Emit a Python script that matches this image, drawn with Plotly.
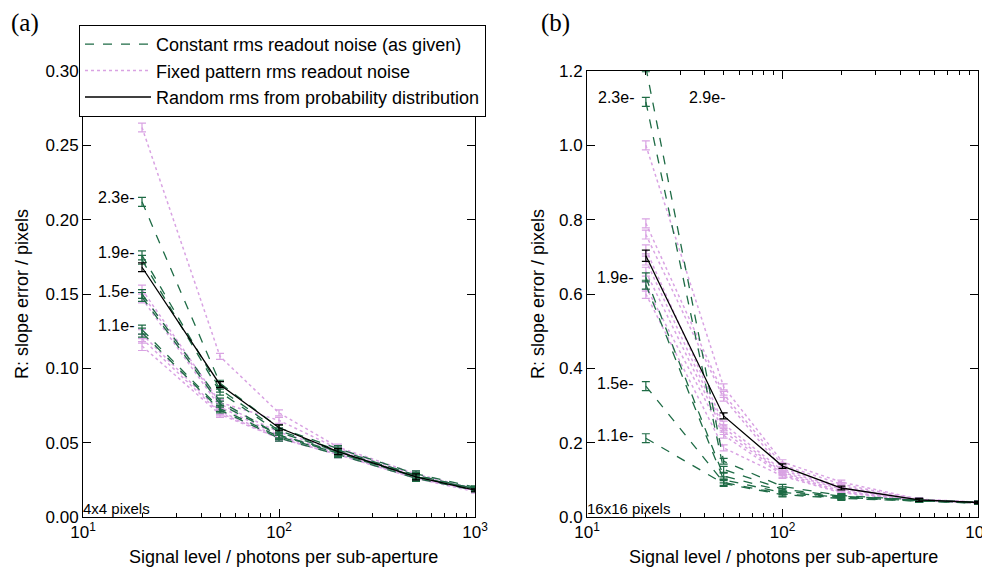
import plotly.graph_objects as go

signal = [20, 50, 100, 200, 500, 1000]

# ---- panel (a) 4x4 pixels ----
a_const = [
    [0.212, 0.090, 0.060, 0.046, 0.029, 0.020],
    [0.176, 0.086, 0.058, 0.045, 0.028, 0.019],
    [0.173, 0.084, 0.057, 0.044, 0.028, 0.019],
    [0.150, 0.078, 0.055, 0.044, 0.027, 0.019],
    [0.148, 0.076, 0.055, 0.043, 0.027, 0.019],
    [0.126, 0.073, 0.054, 0.043, 0.027, 0.018],
    [0.124, 0.072, 0.053, 0.042, 0.026, 0.018],
]
a_fixed = [
    [0.262, 0.108, 0.070, 0.047, 0.029, 0.019],
    [0.153, 0.077, 0.065, 0.046, 0.028, 0.019],
    [0.150, 0.076, 0.057, 0.045, 0.027, 0.018],
    [0.147, 0.074, 0.055, 0.044, 0.027, 0.018],
    [0.123, 0.071, 0.054, 0.043, 0.026, 0.018],
    [0.120, 0.070, 0.053, 0.042, 0.026, 0.018],
    [0.115, 0.069, 0.053, 0.042, 0.026, 0.017],
]
a_random = [0.168, 0.089, 0.060, 0.044, 0.027, 0.018]
a_err = [0.003, 0.002, 0.002, 0.002, 0.002, 0.001]

# ---- panel (b) 16x16 pixels ----
b_const = [
    [1.210, 0.150, 0.082, 0.058, 0.046, 0.040],
    [1.117, 0.128, 0.075, 0.056, 0.045, 0.039],
    [0.645, 0.110, 0.070, 0.054, 0.044, 0.039],
    [0.625, 0.100, 0.066, 0.053, 0.044, 0.038],
    [0.352, 0.093, 0.062, 0.052, 0.043, 0.038],
    [0.212, 0.090, 0.060, 0.050, 0.043, 0.037],
]
b_fixed = [
    [1.000, 0.350, 0.148, 0.094, 0.048, 0.040],
    [0.790, 0.330, 0.140, 0.088, 0.047, 0.040],
    [0.760, 0.320, 0.130, 0.082, 0.046, 0.039],
    [0.720, 0.250, 0.125, 0.078, 0.046, 0.039],
    [0.690, 0.240, 0.120, 0.075, 0.045, 0.039],
    [0.660, 0.230, 0.117, 0.070, 0.045, 0.038],
    [0.620, 0.220, 0.113, 0.068, 0.044, 0.038],
    [0.600, 0.186, 0.110, 0.065, 0.044, 0.038],
]
b_random = [0.703, 0.272, 0.137, 0.078, 0.046, 0.039]
b_err = [0.012, 0.008, 0.006, 0.005, 0.004, 0.003]
b_random_err = [0.015, 0.008, 0.006, 0.005, 0.004, 0.003]

a_labels = ["2.3e-", "1.9e-", "1.5e-", "1.1e-"]
a_label_y = [0.2148, 0.178, 0.152, 0.129]
b_labels = ["2.3e-", "2.9e-", "1.9e-", "1.5e-", "1.1e-"]
b_label_x = [1.251, 1.716, 1.246, 1.246, 1.246]
b_label_y = [1.128, 1.128, 0.644, 0.36, 0.22]

names = ["Constant rms readout noise (as given)",
         "Fixed pattern rms readout noise",
         "Random rms from probability distribution"]

GREEN = "#1e6b45"
PINK = "#d9a3e3"
BLACK = "#000000"
FONT = "Liberation Sans, Arial, sans-serif"
SERIF = "Liberation Serif, Times New Roman, serif"

fig = go.Figure()


def add(xax, yax, ys, err, color, dash, width, name, group):
    fig.add_trace(go.Scatter(
        x=signal, y=ys, mode="lines", xaxis=xax, yaxis=yax,
        line=dict(color=color, dash=dash, width=width),
        error_y=dict(type="data", array=err, color=color, thickness=1.2, width=4),
        name=name, showlegend=False, legendgroup=group, cliponaxis=True,
    ))


for ys in a_fixed:
    add("x", "y", ys, a_err, PINK, "dot", 1.5, names[1], "f")
for ys in a_const:
    add("x", "y", ys, a_err, GREEN, "dash", 1.3, names[0], "c")
add("x", "y", a_random, a_err, BLACK, "solid", 1.3, names[2], "r")

for ys in b_fixed:
    add("x2", "y2", ys, b_err, PINK, "dot", 1.5, names[1], "f")
for ys in b_const:
    add("x2", "y2", ys, b_err, GREEN, "dash", 1.3, names[0], "c")
add("x2", "y2", b_random, b_random_err, BLACK, "solid", 1.3, names[2], "r")

# legend-only entries in the desired order
for nm, col, dsh, wd in [(names[0], GREEN, "dash", 1.3), (names[1], PINK, "dot", 1.5),
                         (names[2], BLACK, "solid", 1.3)]:
    fig.add_trace(go.Scatter(x=[None], y=[None], mode="lines", name=nm,
                             line=dict(color=col, dash=dsh, width=wd),
                             xaxis="x", yaxis="y", showlegend=True))

minor_vals = [v * m for v in (10, 100) for m in range(2, 10)]
xcommon = dict(type="log", range=[1, 3], tickvals=[10, 100, 1000],
               ticktext=["10<sup>1</sup>", "10<sup>2</sup>", "10<sup>3</sup>"],
               ticks="inside", ticklen=8, tickcolor="black", showgrid=False,
               showline=True, linecolor="black", linewidth=1, mirror="ticks",
               zeroline=False, automargin=False, ticklabeloverflow="allow",
               tickfont=dict(family=FONT, size=17, color="black"),
               minor=dict(tickvals=minor_vals, ticks="inside", ticklen=4, tickcolor="black"))
ycommon = dict(ticks="inside", ticklen=8, tickcolor="black", showgrid=False,
               showline=True, linecolor="black", linewidth=1, mirror="ticks",
               zeroline=False, automargin=False, ticklabeloverflow="allow",
               tickfont=dict(family=FONT, size=17, color="black"))

# page body has an 8px margin: lay out in reference pixels minus that offset
OFF = 8
W, H = 990 - OFF, 573 - OFF


def px(xr):
    return (xr - OFF) / W


def py(yr):
    return 1 - (yr - OFF) / H


fig.update_layout(
    width=W, height=H, margin=dict(l=0, r=0, t=0, b=0, autoexpand=False),
    paper_bgcolor="white", plot_bgcolor="white",
    xaxis=dict(domain=[px(83), px(475)], anchor="y", **xcommon),
    yaxis=dict(domain=[py(517), py(71)], anchor="x", range=[0, 0.30],
               tickvals=[0, 0.05, 0.10, 0.15, 0.20, 0.25, 0.30], tickformat=".2f", **ycommon),
    xaxis2=dict(domain=[px(587), px(978)], anchor="y2", **xcommon),
    yaxis2=dict(domain=[py(517), py(71)], anchor="x2", range=[0, 1.2],
                tickvals=[0, 0.2, 0.4, 0.6, 0.8, 1.0, 1.2], tickformat=".1f", **ycommon),
    legend=dict(x=px(79), y=py(25), xanchor="left", yanchor="top",
                bgcolor="white", bordercolor="black", borderwidth=1,
                font=dict(family=FONT, size=18, color="black"),
                itemwidth=66, tracegroupgap=0),
    showlegend=True,
)

tf = dict(family=FONT, size=16, color="black")
ann = []
for t, yv in zip(a_labels, a_label_y):
    ann.append(dict(x=1.27, y=yv, xref="x", yref="y", text=t, showarrow=False,
                    xanchor="right", yanchor="middle", font=tf))
for t, xv, yv in zip(b_labels, b_label_x, b_label_y):
    ann.append(dict(x=xv, y=yv, xref="x2", yref="y2", text=t, showarrow=False,
                    xanchor="right", yanchor="middle", font=tf))
big = dict(family=FONT, size=18, color="black")
ann += [
    dict(x=1.0, y=0, xref="x", yref="y", text="4x4 pixels", showarrow=False,
         xanchor="left", yanchor="bottom", xshift=-2, yshift=-2,
         font=dict(family=FONT, size=15, color="black")),
    dict(x=1.0, y=0, xref="x2", yref="y2", text="16x16 pixels", showarrow=False,
         xanchor="left", yanchor="bottom", xshift=-2, yshift=-2,
         font=dict(family=FONT, size=15, color="black")),
    dict(x=px(22), y=py(294), xref="paper", yref="paper", text="R: slope error / pixels",
         textangle=-90, showarrow=False, xanchor="center", yanchor="middle", font=big),
    dict(x=px(538), y=py(294), xref="paper", yref="paper", text="R: slope error / pixels",
         textangle=-90, showarrow=False, xanchor="center", yanchor="middle", font=big),
    dict(x=px(283), y=py(557), xref="paper", yref="paper",
         text="Signal level / photons per sub-aperture", showarrow=False,
         xanchor="center", yanchor="middle", font=big),
    dict(x=px(783), y=py(557), xref="paper", yref="paper",
         text="Signal level / photons per sub-aperture", showarrow=False,
         xanchor="center", yanchor="middle", font=big),
    dict(x=px(25), y=1.0, xref="paper", yref="paper", text="(a)", showarrow=False,
         xanchor="center", yanchor="top", borderpad=0,
         font=dict(family=SERIF, size=25, color="black")),
    dict(x=px(555), y=1.0, xref="paper", yref="paper", text="(b)", showarrow=False,
         xanchor="center", yanchor="top", borderpad=0,
         font=dict(family=SERIF, size=25, color="black")),
]
fig.update_layout(annotations=ann)

fig.write_html("out.html")
